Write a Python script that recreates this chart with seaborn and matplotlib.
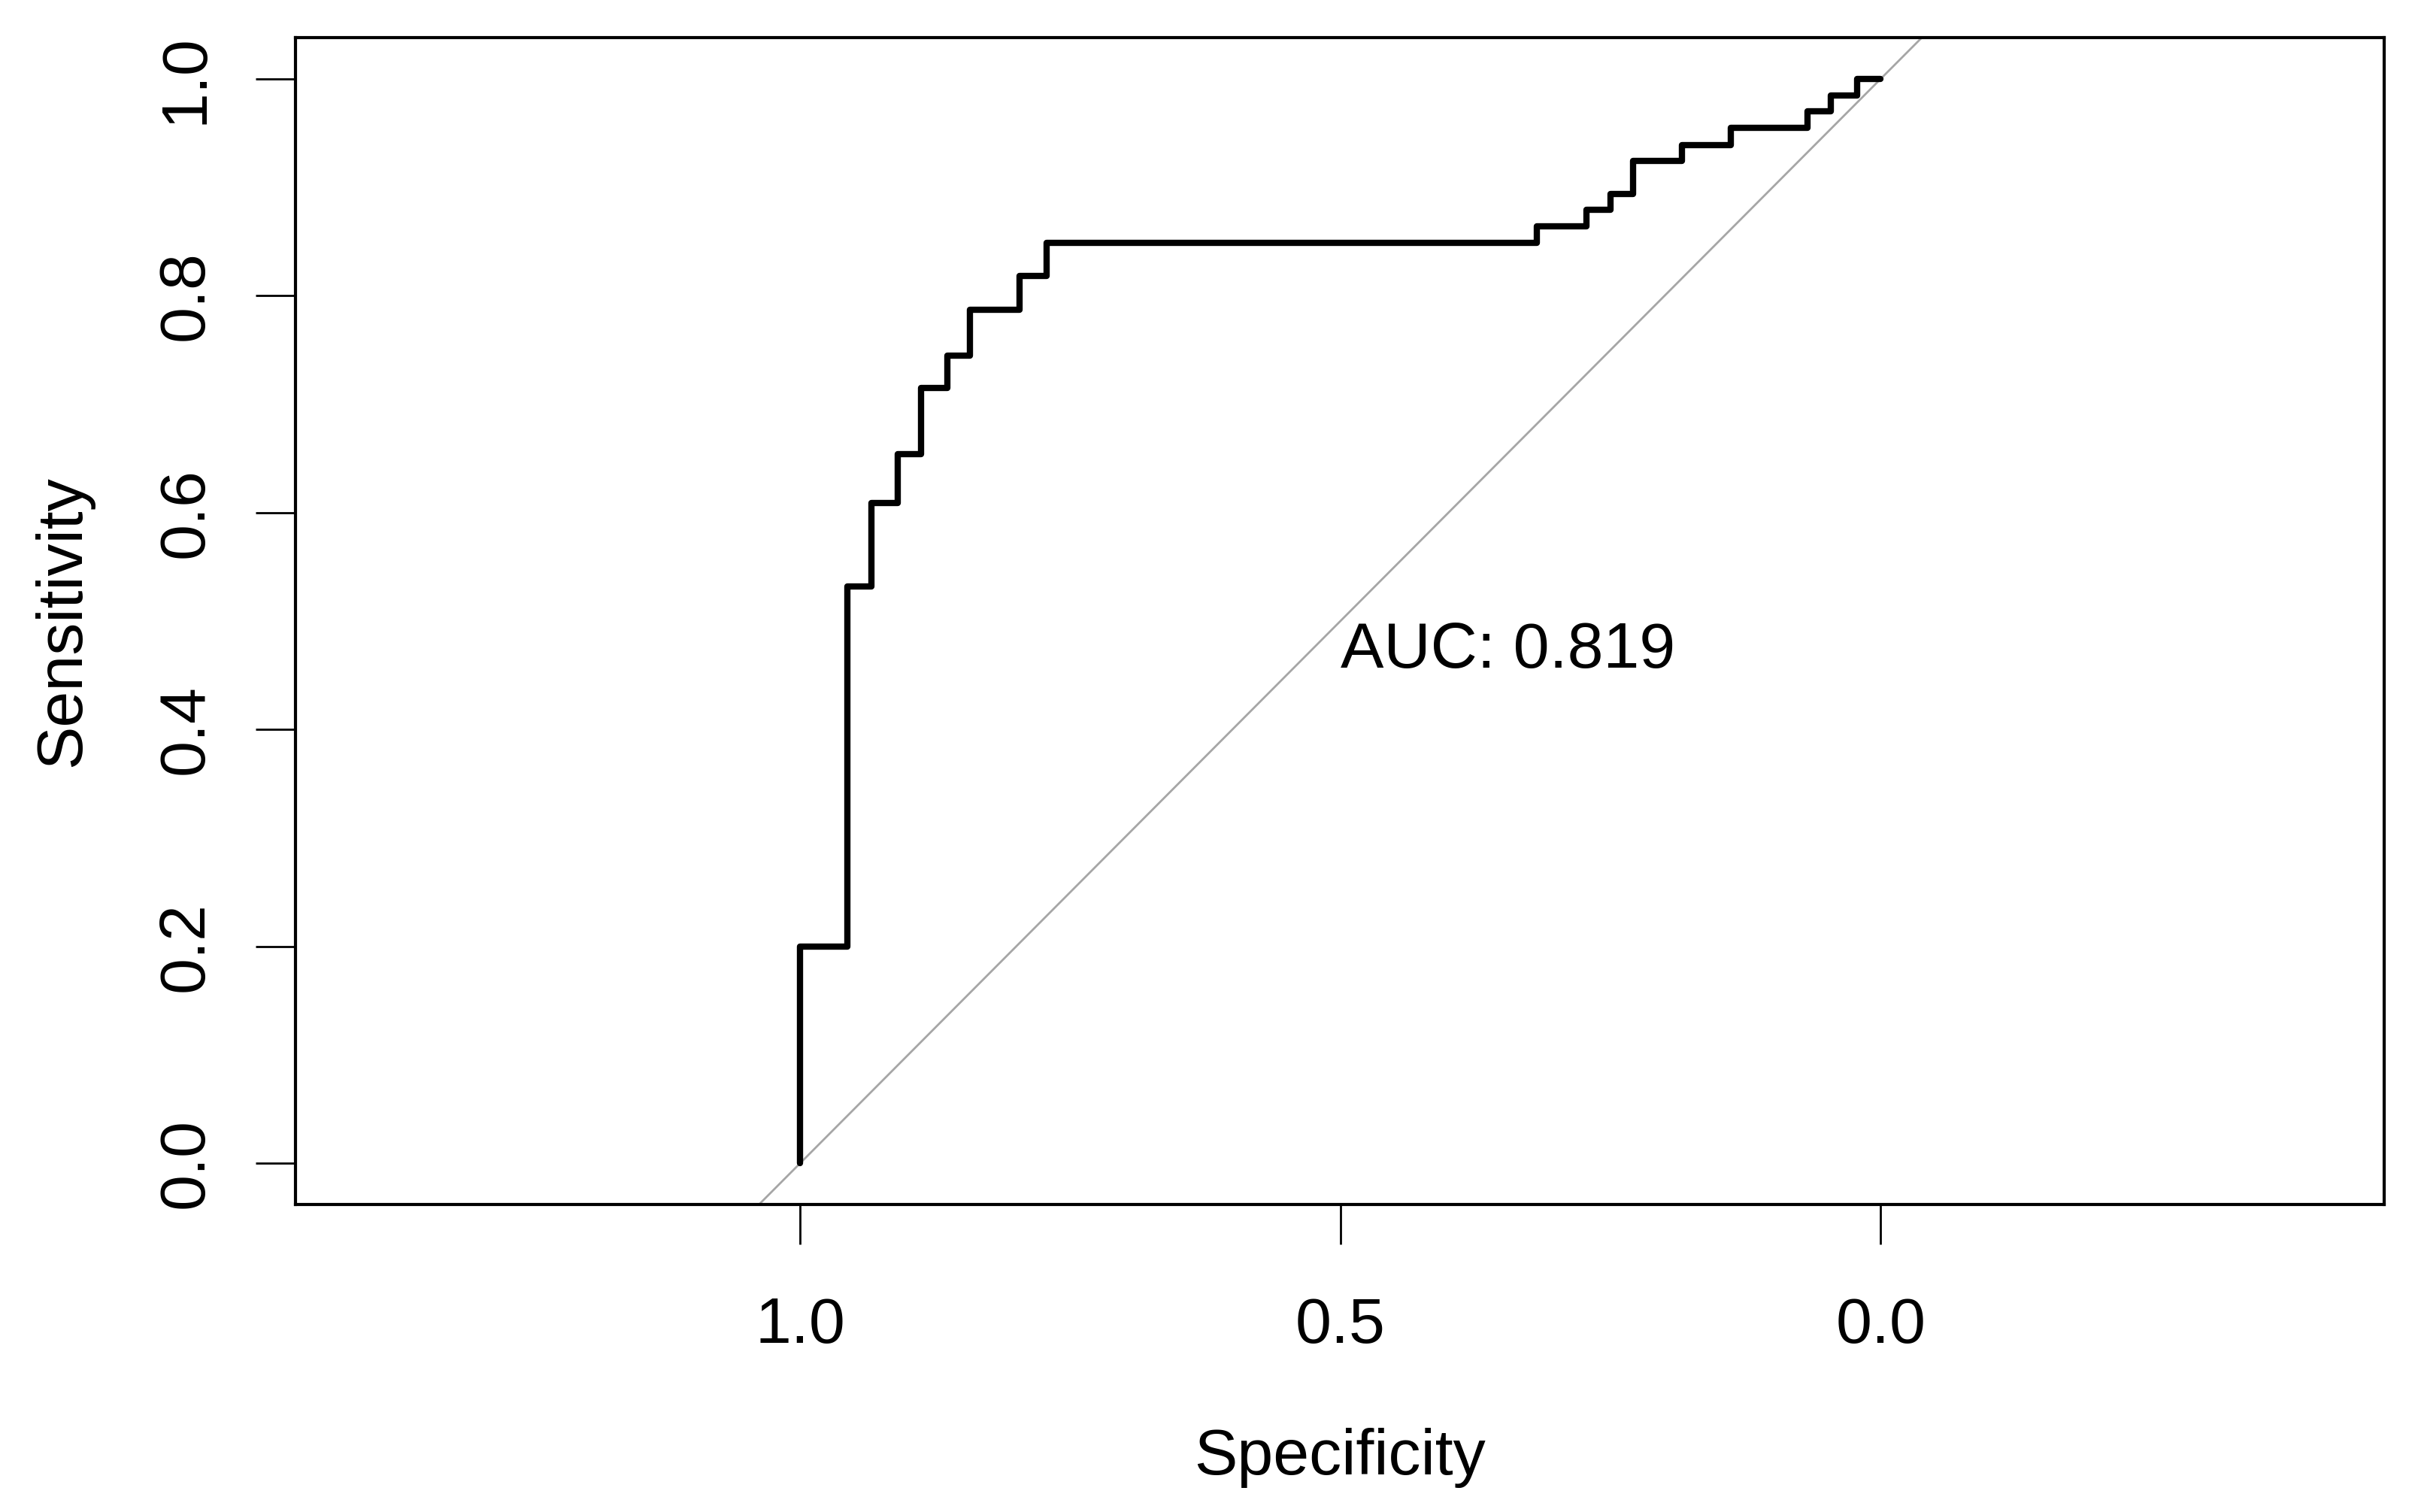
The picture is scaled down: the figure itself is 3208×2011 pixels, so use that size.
import matplotlib
matplotlib.use("Agg")
import matplotlib.pyplot as plt
import seaborn as sns

# ROC curve: at each specificity the sensitivity jumps to sens_after
spec_at = [1.0, 0.956, 0.934, 0.910, 0.888, 0.864, 0.843, 0.797, 0.772,
           0.318, 0.272, 0.250, 0.229, 0.184, 0.139, 0.068, 0.046, 0.022]
sens_after = [0.2, 0.532, 0.609, 0.654, 0.715, 0.745, 0.787, 0.818, 0.849,
              0.864, 0.879, 0.894, 0.924, 0.939, 0.955, 0.970, 0.985, 1.0]
auc_text = "AUC: 0.819"
x_ticks = [1.0, 0.5, 0.0]
y_ticks = [0.0, 0.2, 0.4, 0.6, 0.8, 1.0]

# corner points of the ROC path
xs, ys = [], []
prev = 0.0
for s, v in zip(spec_at, sens_after):
    xs += [s, s]
    ys += [prev, v]
    prev = v
xs.append(0.0)
ys.append(prev)

sns.set_theme(style="ticks")
plt.rcParams["font.family"] = ["Liberation Sans", "DejaVu Sans"]

fig = plt.figure(figsize=(16.04, 10.055), dpi=200)
ax = fig.add_axes([0.1225, 0.2034, 0.866, 0.7717])

ax.axline((1, 0), (0, 1), color="#a6a6a6", lw=1.0, zorder=1)
sns.lineplot(x=xs, y=ys, sort=False, estimator=None, color="black",
             linewidth=3.0, ax=ax, zorder=3)

ax.text(0.5, 0.5, auc_text, ha="left", va="top", fontsize=31, color="black")

ax.set_xlim(1.467, -0.466)
ax.set_ylim(-0.038, 1.038)
ax.set_xticks(x_ticks)
ax.set_xticklabels(["1.0", "0.5", "0.0"])
ax.set_yticks(y_ticks)
ax.set_yticklabels(["0.0", "0.2", "0.4", "0.6", "0.8", "1.0"], rotation=90, va="center")

for sp in ax.spines.values():
    sp.set_visible(True)
    sp.set_color("black")
    sp.set_linewidth(1.5)

ax.tick_params(axis="both", direction="out", length=19, width=1.0, color="black",
               labelsize=31, labelcolor="black")
ax.tick_params(axis="x", pad=25)
ax.tick_params(axis="y", pad=19)

ax.set_xlabel("Specificity", fontsize=31, color="black", labelpad=34)
ax.set_ylabel("Sensitivity", fontsize=31, color="black", labelpad=30)
ax.grid(False)

fig.savefig("out.png", dpi=200, facecolor="white")
